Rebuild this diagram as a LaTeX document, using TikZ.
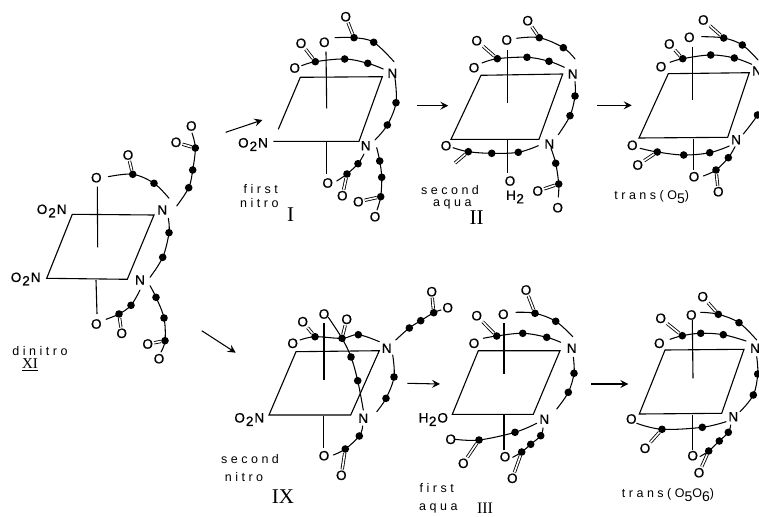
\documentclass[tikz,border=0pt]{standalone}
\usepackage{fontspec}
\setmainfont{Liberation Sans}
\newfontfamily\atomfont[FakeBold=.7]{Liberation Sans}
\newfontfamily\labfont[LetterSpace=28]{Liberation Sans}
\newfontfamily\romfont{Liberation Serif}
\usetikzlibrary{arrows.meta}
\tikzset{
  atom/.style={font=\atomfont\fontsize{13.5}{14}\selectfont,inner sep=1pt,text=black},
  cdot/.style={circle,fill=black,draw=none,minimum size=7.6pt,inner sep=0pt},
  bond/.style={line width=1.05pt,line cap=round,black},
  dbl/.style={double=white,double distance=1.6pt,line width=.85pt,black},
  ring/.style={line width=1.1pt,line join=miter,black},
  arr/.style={line width=1.05pt,black,-{Stealth[length=8pt,width=8pt,inset=3pt]}},
  lab/.style={font=\labfont\fontsize{12.5}{14}\selectfont,inner sep=0pt,text=black},
  rom/.style={font=\romfont\fontsize{21}{21}\selectfont,inner sep=0pt,text=black}
}
\newcommand\ON{O\kern1pt\raisebox{-3.5pt}{2}\kern1pt N}
\newcommand\HO{H\kern.5pt\raisebox{-3.5pt}{2}\kern1pt O}
\newcommand\sbs[1]{\raisebox{-4.5pt}{\fontsize{14}{14}\selectfont #1}}
\newcommand\CHtwo[5]{%
  \coordinate (#1s) at #2; \node[cdot] (#1a) at #3 {}; \node[cdot] (#1b) at #4 {}; \coordinate (#1e) at #5;
  \draw[bond] plot[smooth,tension=.6] coordinates {(#1s) (#1a) (#1b) (#1e)};}
\newcommand\CHthree[6]{%
  \coordinate (#1s) at #2; \node[cdot] (#1a) at #3 {}; \node[cdot] (#1b) at #4 {}; \node[cdot] (#1c) at #5 {}; \coordinate (#1e) at #6;
  \draw[bond] plot[smooth,tension=.6] coordinates {(#1s) (#1a) (#1b) (#1c) (#1e)};}
\newcommand\Ring[5]{%
  \coordinate (#1p) at #2; \coordinate (#1q) at #3; \coordinate (#1r) at #4; \coordinate (#1t) at #5;
  \draw[ring] (#1p) -- (#1q) -- (#1r) -- (#1t) -- cycle;}
\newcommand\Axis[3]{\coordinate (#1x) at #2; \coordinate (#1y) at #3; \draw[ring] (#1x) -- (#1y);}
\newcommand\At[3]{\node[atom] (#1) at #2 {#3};}
\newcommand\Dbl[2]{\draw[dbl] (#1) -- (#2);}
\begin{document}
\begin{tikzpicture}[x=1pt,y=-1pt]
\useasboundingbox (0,0) rectangle (759,516);
\fill[white] (0,0) rectangle (759,516);

% ===== XI
\Ring{A}{(72.3,214.3)}{(154,215)}{(127.3,279.3)}{(46.7,278.3)}
\Axis{Au}{(97.3,186.7)}{(97.7,247.3)}
\Axis{Ad}{(96,280)}{(97,314)}
\At{AO1}{(96.3,177.7)}{O}
\At{AO2}{(96.3,324)}{O}
\At{AN1}{(162.3,210)}{N}
\At{AN2}{(140,280)}{N}
\At{Ani1}{(51.7,211)}{\ON}
\At{Ani2}{(25.7,279)}{\ON}
\CHtwo{Ac1}{(108.3,176.7)}{(132.7,174.3)}{(154,183.3)}{(169,198.3)}
\At{Ac1O}{(128,155)}{O}\Dbl{Ac1a}{Ac1O}
\CHthree{Ac2}{(176.7,206)}{(188.7,187.7)}{(192.7,170)}{(195.3,148)}{(192,133)}
\At{Ac2O}{(191.3,126)}{O}
\At{Ac2P}{(176,142.3)}{O}\Dbl{Ac2c}{Ac2P}
\CHtwo{Ac3}{(168.3,218.3)}{(169,232.7)}{(162.7,257.3)}{(150,277.3)}
\CHthree{Ac4}{(150,285.7)}{(156,297.3)}{(164,318)}{(165,340.7)}{(161,352)}
\At{Ac4O}{(159,358.7)}{O}
\At{Ac4P}{(147.7,344)}{O}\Dbl{Ac4c}{Ac4P}
\CHtwo{Ac5}{(140,290)}{(131,305.3)}{(119,314)}{(106,319.3)}
\At{Ac5O}{(121.7,333.3)}{O}\Dbl{Ac5b}{Ac5O}
\node[lab] (Al1) at (40,351) {dinitro};
\node[rom,font=\romfont\fontsize{15}{15}\selectfont] (Al2) at (30,365) {\underline{XI}};

% ===== I
\coordinate (Bp) at (300.3,77.3); \coordinate (Bq) at (382.3,76.7); \coordinate (Br) at (359,141.3); \coordinate (Bt) at (273.3,141.3); \coordinate (Bg) at (278.3,129.3);
\draw[ring] (Bg) -- (Bp) -- (Bq) -- (Br) -- (Bt);
\Axis{Bu}{(326,51.7)}{(326.7,108.3)}
\Axis{Bd}{(326.7,141.3)}{(326.7,174)}
\At{BO1}{(324.3,42.3)}{O}
\At{BO2}{(327.7,183)}{O}
\At{BO3}{(294.7,68)}{O}
\At{BN1}{(392.3,73.3)}{N}
\At{BN2}{(365.7,145.7)}{N}
\At{Bni}{(253,144.5)}{\ON}
\CHtwo{Bc1}{(335,37.7)}{(354,37.7)}{(373.7,42.3)}{(394,61.7)}
\At{Bc1O}{(345.7,16.7)}{O}\Dbl{Bc1a}{Bc1O}
\CHthree{Bc2}{(301.7,65.7)}{(315.3,61.7)}{(344.7,59)}{(367.7,63.3)}{(383.3,69)}
\At{Bc2O}{(301,43.3)}{O}\Dbl{Bc2a}{Bc2O}
\CHtwo{Bc3}{(395,78.3)}{(396,102.7)}{(387.3,125)}{(375,140)}
\CHthree{Bc4}{(376.7,147.7)}{(379.7,161)}{(381.7,177.3)}{(380.7,196.7)}{(377,210)}
\At{Bc4O}{(375,216.7)}{O}
\At{Bc4P}{(358.3,201.7)}{O}\Dbl{Bc4c}{Bc4P}
\CHtwo{Bc5}{(364,154)}{(358,163.7)}{(347,174)}{(336.7,181)}
\At{Bc5O}{(342.3,195.7)}{O}\Dbl{Bc5b}{Bc5O}
\node[lab] (Bl1) at (260.7,189) {first};
\node[lab] (Bl2) at (259.3,203) {nitro};
\node[rom] (Bl3) at (290.7,215) {I};

% ===== II
\Ring{C}{(481,75.3)}{(562.7,74)}{(539,139.3)}{(451,139.3)}
\Axis{Cu}{(507.7,50)}{(507.7,103.3)}
\Axis{Cd}{(507.7,140)}{(507.7,173.3)}
\At{CO1}{(506.7,40)}{O}
\At{CO2}{(510,181)}{O}
\node[atom] (CH) at (515,197) {H\kern.5pt\raisebox{-3.5pt}{2}};
\At{CO3}{(474,67.7)}{O}
\At{CO4}{(446,145.7)}{O}
\At{CN1}{(572.7,74)}{N}
\At{CN2}{(549.3,144)}{N}
\CHtwo{Cc1}{(516.7,38.3)}{(539.3,37.7)}{(563.3,47.7)}{(575,59)}
\At{Cc1O}{(527.7,20.7)}{O}\Dbl{Cc1a}{Cc1O}
\CHthree{Cc2}{(482,63)}{(497.3,58.7)}{(527,57.3)}{(549,61.3)}{(564.3,67.3)}
\At{Cc2O}{(476.7,40.7)}{O}\Dbl{Cc2a}{Cc2O}
\CHtwo{Cc3}{(575,81.7)}{(575,96)}{(570,115.7)}{(558.3,134.7)}
\CHtwo{Cc4}{(551,148.3)}{(555.7,163.3)}{(558.7,184)}{(558.3,197)}
\At{Cc4O}{(557.7,207.7)}{O}
\At{Cc4P}{(537.7,191)}{O}\Dbl{Cc4b}{Cc4P}
\CHthree{Cc5}{(453,147.7)}{(468.3,151.7)}{(491.7,153.3)}{(518.3,152.3)}{(538.3,145.7)}
\coordinate (Cc5f) at (455,163);\Dbl{Cc5a}{Cc5f}
\node[lab] (Cl1) at (450,190) {second};
\node[lab] (Cl2) at (452.3,204) {aqua};
\node[rom] (Cl3) at (476.7,218) {II};

% ===== trans(O5)
\Ring{D}{(668.3,73.7)}{(749.3,72.7)}{(727.7,137.3)}{(639,138)}
\Axis{Du}{(692.3,46.7)}{(692.3,100)}
\Axis{Dd}{(693.3,138.7)}{(693.3,170)}
\At{DO1}{(689.3,37.3)}{O}
\At{DO2}{(694,176.7)}{O}
\At{DO3}{(661,66.7)}{O}
\At{DO4}{(632.3,145.3)}{O}
\At{DN1}{(757,71)}{N}
\At{DN2}{(736,139.7)}{N}
\CHtwo{Dc1}{(701.7,36.7)}{(723.7,38)}{(742.3,45)}{(758,60)}
\At{Dc1O}{(703.3,20)}{O}\Dbl{Dc1a}{Dc1O}
\CHthree{Dc2}{(670,62.3)}{(682.7,58.7)}{(710.7,55)}{(734.3,58)}{(751.7,64.3)}
\At{Dc2O}{(669.3,44)}{O}\Dbl{Dc2a}{Dc2O}
\CHtwo{Dc3}{(765,82)}{(765,97)}{(757.5,115)}{(743.3,134)}
\CHthree{Dc4}{(640,148.3)}{(657.3,152)}{(683.7,155)}{(709.7,152.7)}{(729.3,146)}
\At{Dc4O}{(637.7,165)}{O}\Dbl{Dc4a}{Dc4O}
\CHtwo{Dc5}{(735,146.7)}{(728.3,157.7)}{(716,170)}{(703.3,176)}
\At{Dc5O}{(718.3,191.7)}{O}\Dbl{Dc5b}{Dc5O}
\node[lab] (Dl1) at (651.7,197) {trans(O\sbs{5})};

% ===== IX
\Ring{E}{(296,351.7)}{(379.3,350.7)}{(350.7,415)}{(269,415)}
\Axis{Eu}{(324,323.3)}{(324,380)}
\Axis{Ed}{(323.7,415.7)}{(323.7,448.3)}
\At{EO1}{(324,314)}{O}
\At{EO2}{(324,455.7)}{O}
\At{EO3}{(292.7,343.3)}{O}
\At{EN1}{(386.7,348.3)}{N}
\At{EN2}{(363.3,418.3)}{N}
\At{Eni}{(249.3,419.5)}{\ON}
\CHthree{Ec1}{(300,340)}{(315,336.7)}{(342,338.3)}{(358.3,334.7)}{(379.3,341.7)}
\At{Ec1O}{(302.7,321.7)}{O}\Dbl{Ec1a}{Ec1O}
\At{Ec1P}{(346.7,319.3)}{O}\Dbl{Ec1b}{Ec1P}
\coordinate (Ec2s) at (328.3,317.3); \node[cdot] (Ec2a) at (351,357) {}; \node[cdot] (Ec2b) at (357.7,380.7) {}; \coordinate (Ec2e) at (363.3,410);
\draw[bond] plot[smooth,tension=.6] coordinates {(Ec2s) (Ec1b) (Ec2a) (Ec2b) (Ec2e)};
\CHthree{Ec3}{(395.7,340)}{(409.3,328)}{(420.7,320.7)}{(433.7,312.7)}{(441,310)}
\At{Ec3O}{(447.7,307.7)}{O}
\At{Ec3P}{(431.7,291.7)}{O}\Dbl{Ec3c}{Ec3P}
\CHtwo{Ec4}{(392.7,355)}{(394,377)}{(386,398.3)}{(376.7,411.7)}
\CHtwo{Ec5}{(362.7,426)}{(359.3,436)}{(345.3,449)}{(333.3,455)}
\At{Ec5O}{(341.3,475.3)}{O}\Dbl{Ec5b}{Ec5O}
\node[lab] (El1) at (250,459) {second};
\node[lab] (El2) at (244,477) {nitro};
\node[rom] (El3) at (283,497) {IX};

% ===== III
\Ring{F}{(478.3,350.7)}{(560,350.7)}{(533.3,414.3)}{(452.3,414.3)}
\Axis{Fu}{(504,323.3)}{(504,374.3)}
\Axis{Fd}{(504,415)}{(504,450)}
\At{FO1}{(503.3,314.3)}{O}
\At{FO2}{(505,456.7)}{O}
\At{FO3}{(474,343.3)}{O}
\At{FN1}{(571.7,348.3)}{N}
\At{FN2}{(544.3,419.3)}{N}
\At{Fwa}{(433.3,419.5)}{\HO}
\CHtwo{Fc1}{(516,312.3)}{(535,313.3)}{(555.7,321.3)}{(572.7,336.7)}
\At{Fc1O}{(526,290)}{O}\Dbl{Fc1a}{Fc1O}
\CHthree{Fc2}{(483.3,338.3)}{(496.7,336)}{(522.7,333.3)}{(546.7,337.3)}{(560.7,342.3)}
\At{Fc2O}{(476.7,315.7)}{O}\Dbl{Fc2a}{Fc2O}
\CHtwo{Fc3}{(573.3,357.3)}{(574,373.3)}{(568.3,392.3)}{(556.7,409)}
\CHtwo{Fc4}{(455,439.3)}{(479,440)}{(515,432.3)}{(536.7,423.3)}
\At{Fc4O}{(450.7,439.3)}{O}
\At{Fc4P}{(463.3,463.3)}{O}\Dbl{Fc4a}{Fc4P}
\CHthree{Fc5}{(543,428)}{(540.7,435.7)}{(530.7,444.3)}{(521.7,452)}{(512.7,457.3)}
\At{Fc5O}{(512.3,478.3)}{O}\Dbl{Fc5c}{Fc5O}
\node[lab] (Fl1) at (436.7,488.3) {first};
\node[lab] (Fl2) at (438.3,508.5) {aqua};
\node[rom,font=\romfont\fontsize{16}{16}\selectfont] (Fl3) at (485,508.5) {III};

% ===== trans(O5O6)
\Ring{G}{(665,350)}{(744,349.3)}{(721.7,413.3)}{(639.3,414)}
\Axis{Gu}{(692.3,320)}{(693,378.3)}
\Axis{Gd}{(692.7,415)}{(692.7,450)}
\At{GO1}{(691.3,315)}{O}
\At{GO2}{(692.7,455.7)}{O}
\At{GO3}{(659.3,343.3)}{O}
\At{GO4}{(631.3,419)}{O}
\At{GN1}{(755,348.3)}{N}
\At{GN2}{(733.3,416.7)}{N}
\CHtwo{Gc1}{(700.7,312.3)}{(718.3,314.3)}{(739,322.7)}{(756.7,340)}
\At{Gc1O}{(702.7,296.7)}{O}\Dbl{Gc1a}{Gc1O}
\CHthree{Gc2}{(670,339.3)}{(682.3,335.7)}{(700.7,333.3)}{(723.3,334.7)}{(746,341)}
\At{Gc2O}{(660.7,318.3)}{O}\Dbl{Gc2a}{Gc2O}
\CHtwo{Gc3}{(756.7,356.7)}{(757.7,374)}{(753.3,395)}{(740,411.7)}
\CHtwo{Gc4}{(636.7,423.3)}{(662,429.3)}{(702.3,427.3)}{(726,421.7)}
\At{Gc4O}{(645,448.3)}{O}\Dbl{Gc4a}{Gc4O}
\CHthree{Gc5}{(730.7,425)}{(728.3,432.3)}{(719.3,441)}{(708.7,451)}{(700,456.5)}
\At{Gc5O}{(699,472.7)}{O}\Dbl{Gc5c}{Gc5O}
\node[lab] (Gl1) at (668,495) {trans(O\sbs{5}O\sbs{6})};

% ===== arrows
\coordinate (R1s) at (225.7,132.3); \coordinate (R1e) at (262.3,120);
\coordinate (R2s) at (416.7,105.7); \coordinate (R2e) at (448.3,105.7);
\coordinate (R3s) at (597.3,105.3); \coordinate (R3e) at (631.7,105.3);
\coordinate (R4s) at (201.7,330.7); \coordinate (R4e) at (235.7,352.7);
\coordinate (R5s) at (407.3,383.3); \coordinate (R5e) at (440,384);
\coordinate (R6s) at (591,384);     \coordinate (R6e) at (628.3,384);
\foreach \k in {1,...,6} {\draw[arr] (R\k s) -- (R\k e);}
\end{tikzpicture}
\end{document}
